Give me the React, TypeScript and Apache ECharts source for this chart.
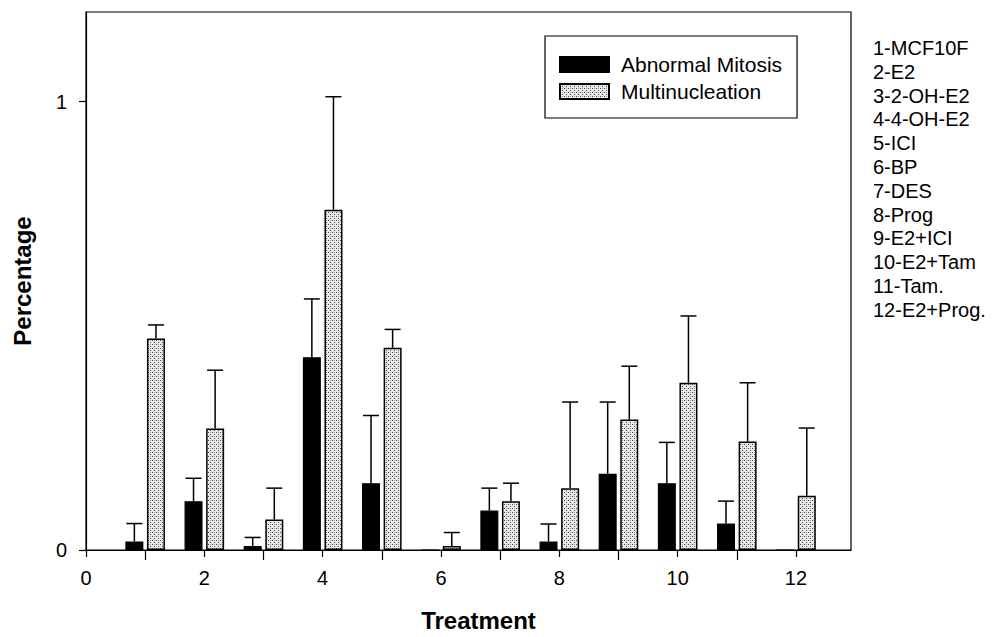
import React, { useEffect, useRef } from 'react';
import * as echarts from 'echarts';

// ---- data ----
const treatments = [1, 2, 3, 4, 5, 6, 7, 8, 9, 10, 11, 12];
const treatmentNames = [
  '1-MCF10F', '2-E2', '3-2-OH-E2', '4-4-OH-E2', '5-ICI', '6-BP',
  '7-DES', '8-Prog', '9-E2+ICI', '10-E2+Tam', '11-Tam.', '12-E2+Prog.',
];
const abnormalMitosis = [0.019, 0.109, 0.009, 0.43, 0.149, 0, 0.088, 0.019, 0.17, 0.149, 0.059, 0];
const abnormalMitosisErr = [0.04, 0.051, 0.019, 0.13, 0.151, 0, 0.05, 0.039, 0.16, 0.091, 0.05, 0];
const multinucleation = [0.472, 0.271, 0.068, 0.759, 0.451, 0.009, 0.109, 0.138, 0.291, 0.373, 0.242, 0.121];
const multinucleationErr = [0.03, 0.13, 0.07, 0.252, 0.041, 0.03, 0.04, 0.192, 0.119, 0.149, 0.131, 0.151];
const xTickLabels = [0, 2, 4, 6, 8, 10, 12];
const xMinorTicks = [1, 3, 5, 7, 9, 11];
const yTickLabels = [0, 1];
const seriesNames = ['Abnormal Mitosis', 'Multinucleation'];

const FONT = "'Liberation Sans', Arial, Helvetica, sans-serif";

function makeStipple(): string {
  const c = document.createElement('canvas');
  c.width = 4;
  c.height = 4;
  const ctx = c.getContext('2d')!;
  ctx.fillStyle = '#e8e8e8';
  ctx.fillRect(0, 0, 4, 4);
  ctx.fillStyle = '#4a4a4a';
  ctx.fillRect(0, 0, 1, 1);
  ctx.fillRect(2, 2, 1, 1);
  ctx.fillStyle = '#a8a8a8';
  ctx.fillRect(2, 0, 1, 1);
  return c.toDataURL();
}

function errorSeries(name: string, values: number[], errs: number[], offset: number) {
  return {
    type: 'custom',
    name: name + ' SD',
    xAxisIndex: 0,
    yAxisIndex: 0,
    silent: true,
    z: 1,
    data: treatments.map((t, i) => [t, values[i], values[i] + errs[i], errs[i]]),
    encode: { x: 0, y: [1, 2] },
    renderItem: (params: any, api: any) => {
      const err = api.value(3);
      if (!err) return { type: 'group', children: [] };
      const base = api.coord([api.value(0), api.value(1)]);
      const top = api.coord([api.value(0), api.value(2)]);
      const x = base[0] + offset;
      const st = { stroke: '#000', lineWidth: 1.5 };
      return {
        type: 'group',
        children: [
          { type: 'line', shape: { x1: x, y1: base[1], x2: x, y2: top[1] }, style: st },
          { type: 'line', shape: { x1: x - 8, y1: top[1], x2: x + 8, y2: top[1] }, style: st },
        ],
      };
    },
  };
}

export default function App() {
  const ref = useRef<HTMLDivElement>(null);
  useEffect(() => {
    if (!ref.current) return;
    const chart = echarts.init(ref.current, null, { renderer: 'svg' });
    const stipple = { image: makeStipple(), repeat: 'repeat', imageWidth: 4, imageHeight: 4 };
    const option: any = {
      animation: false,
      backgroundColor: '#fff',
      textStyle: { fontFamily: FONT, color: '#000' },
      grid: {
        left: 86, top: 12, width: 765, height: 539,
        show: true, borderColor: '#000', borderWidth: 1.2, backgroundColor: 'transparent',
      },
      legend: {
        data: seriesNames.map((n) => ({ name: n, icon: 'rect' })),
        orient: 'vertical',
        left: 545,
        top: 36,
        padding: [18, 15, 16, 14],
        itemGap: 6,
        itemWidth: 49,
        itemHeight: 15,
        borderColor: '#000',
        borderWidth: 1.2,
        backgroundColor: '#fff',
        selectedMode: false,
        textStyle: { fontFamily: FONT, fontSize: 21, color: '#000', padding: [0, 0, 0, 7] },
      },
      xAxis: [
        {
          type: 'value', min: 0, max: 12.93,
          axisLine: { show: true, onZero: false, lineStyle: { color: '#000', width: 1.2 } },
          axisTick: { show: true, customValues: xTickLabels, length: 7, lineStyle: { color: '#000', width: 1.2 } },
          axisLabel: { customValues: xTickLabels, fontSize: 20, margin: 18, color: '#000', fontFamily: FONT },
          splitLine: { show: false },
          name: 'Treatment', nameLocation: 'middle', nameGap: 58,
          nameTextStyle: { fontFamily: FONT, fontSize: 24, fontWeight: 'bold', color: '#000', padding: [0, 0, 0, 20] },
        },
        {
          type: 'value', min: 0, max: 12.93, position: 'bottom',
          axisLine: { show: false },
          axisTick: { show: true, customValues: xMinorTicks, length: 10, lineStyle: { color: '#000', width: 1.2 } },
          axisLabel: { show: false },
          splitLine: { show: false },
        },
      ],
      yAxis: {
        type: 'value', min: 0, max: 1.2,
        axisLine: { show: true, lineStyle: { color: '#000', width: 1.2 } },
        axisTick: { show: true, customValues: yTickLabels, length: 7, lineStyle: { color: '#000', width: 1.2 } },
        axisLabel: { customValues: yTickLabels, fontSize: 20, margin: 19, color: '#000', fontFamily: FONT },
        splitLine: { show: false },
        name: 'Percentage', nameLocation: 'middle', nameGap: 52, nameRotate: 90,
        nameTextStyle: { fontFamily: FONT, fontSize: 24, fontWeight: 'bold', color: '#000' },
      },
      series: [
        {
          type: 'bar', name: seriesNames[0], xAxisIndex: 0, yAxisIndex: 0,
          data: treatments.map((t, i) => [t, abnormalMitosis[i]]),
          barWidth: 18, barGap: '20%', z: 2,
          itemStyle: { color: '#000', borderColor: '#000', borderWidth: 1.2 },
        },
        {
          type: 'bar', name: seriesNames[1], xAxisIndex: 0, yAxisIndex: 0,
          data: treatments.map((t, i) => [t, multinucleation[i]]),
          barWidth: 18, barGap: '20%', z: 2,
          itemStyle: { color: stipple, borderColor: '#000', borderWidth: 1.5 },
        },
        errorSeries(seriesNames[0], abnormalMitosis, abnormalMitosisErr, -10.8),
        errorSeries(seriesNames[1], multinucleation, multinucleationErr, 10.8),
      ],
      graphic: treatmentNames.map((name, i) => ({
        type: 'text',
        x: 873,
        y: 48 + i * 23.8,
        style: { text: name, fontFamily: FONT, fontSize: 20, fill: '#000', verticalAlign: 'middle', align: 'left' },
      })),
    };
    chart.setOption(option);
    return () => chart.dispose();
  }, []);
  return <div ref={ref} style={{ position: 'absolute', left: 0, top: 0, width: 992, height: 637 }} />;
}
